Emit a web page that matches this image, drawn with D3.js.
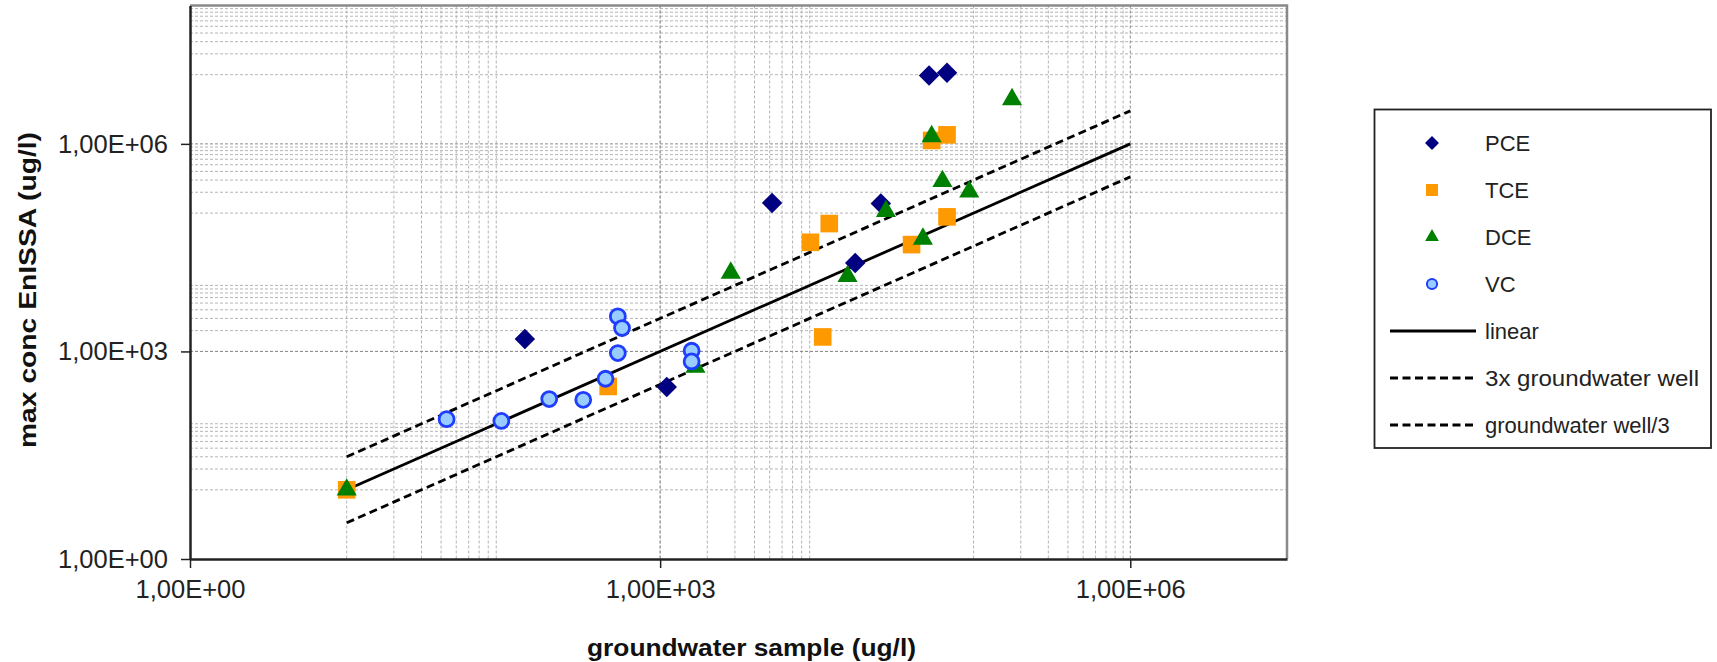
<!DOCTYPE html>
<html>
<head>
<meta charset="utf-8">
<script src="https://cdn.jsdelivr.net/npm/d3@7"></script>
<style>
  html, body { margin: 0; padding: 0; background: #fff; }
  svg { display: block; font-family: "Liberation Sans", Arial, sans-serif; }
</style>
</head>
<body>
<svg id="chart" width="1717" height="662"></svg>
<script>
// ---------------- data ----------------
const seriesNames = ["PCE", "TCE", "DCE", "VC"];

const pceX = [137, 1102, 5180, 17570, 25600, 52000, 67700];
const pceY = [1513, 305, 140000, 19000, 137000, 9.77e6, 1.07e7];

const tceX = [10, 466, 9100, 12000, 10900, 40200, 54000, 67700, 67700];
const tceY = [10, 312, 37800, 70500, 1620, 35000, 1.12e6, 1.35e6, 88100];

const dceX = [10, 1680, 2823, 15700, 27600, 47500, 54000, 63300, 93800, 176000];
const dceY = [10, 595, 13650, 12200, 106000, 42400, 1.28e6, 288000, 203000, 4.39e6];

const vcX = [43.4, 97, 196, 323, 448, 537, 571, 537, 1588, 1588];
const vcY = [105, 99, 205, 200, 403, 3210, 2180, 948, 1024, 717];

const lineNames = ["linear", "3x groundwater well", "groundwater well/3"];
const lineX = [10, 1e6];
const linearY = [10, 1e6];
const upperY = [30, 3e6];
const lowerY = [3.333, 333333];

const xTickValues = [1, 1e3, 1e6];
const xTickLabels = ["1,00E+00", "1,00E+03", "1,00E+06"];
const yTickValues = [1, 1e3, 1e6];
const yTickLabels = ["1,00E+00", "1,00E+03", "1,00E+06"];
const xMinorExponents = [1, 3, 5];
const yMinorExponents = [1, 3, 5, 7];
const minorMultipliers = [1, 2, 3, 4, 5, 6, 7, 8, 9];

const xTitle = "groundwater sample  (ug/l)";
const yTitle = "max conc EnISSA (ug/l)";

// ---------------- layout ----------------
const L = 190, R = 1287, T = 5.5, B = 559;
const svg = d3.select("#chart");
svg.append("rect").attr("width", 1717).attr("height", 662).attr("fill", "#fff");

const x = d3.scaleLog().domain([1, 1e7]).range([L, R]);
const y = d3.scaleLog().domain([1, 1e8]).range([B, T]);

// ---------------- grid ----------------
const grid = svg.append("g");
const xMinor = [];
xMinorExponents.forEach(k => minorMultipliers.forEach(m => xMinor.push(m * Math.pow(10, k))));
const yMinor = [];
yMinorExponents.forEach(k => minorMultipliers.forEach(m => yMinor.push(m * Math.pow(10, k))));

grid.selectAll(".vx").data(xMinor).join("line")
  .attr("x1", d => x(d)).attr("x2", d => x(d))
  .attr("y1", T).attr("y2", B)
  .attr("stroke", "#b5b5b5").attr("stroke-width", 1).attr("stroke-dasharray", "3,2");
grid.selectAll(".hy").data(yMinor).join("line")
  .attr("y1", d => y(d)).attr("y2", d => y(d))
  .attr("x1", L).attr("x2", R)
  .attr("stroke", "#b5b5b5").attr("stroke-width", 1).attr("stroke-dasharray", "3,2");
grid.selectAll(".vmaj").data(xTickValues.slice(1)).join("line")
  .attr("x1", d => x(d)).attr("x2", d => x(d))
  .attr("y1", T).attr("y2", B)
  .attr("stroke", "#8c8c8c").attr("stroke-width", 1).attr("stroke-dasharray", "3,2");
grid.selectAll(".hmaj").data(yTickValues.slice(1)).join("line")
  .attr("y1", d => y(d)).attr("y2", d => y(d))
  .attr("x1", L).attr("x2", R)
  .attr("stroke", "#8c8c8c").attr("stroke-width", 1).attr("stroke-dasharray", "3,2");

// frame top/right
svg.append("path")
  .attr("d", `M${L},${T}H${R}V${B}`)
  .attr("fill", "none").attr("stroke", "#8a8a8a").attr("stroke-width", 2.5);

// ---------------- axes ----------------
const xAxis = d3.axisBottom(x).tickValues(xTickValues)
  .tickFormat((d, i) => xTickLabels[i]).tickSizeOuter(0).tickSizeInner(9).tickPadding(12);
const gx = svg.append("g").attr("transform", `translate(0,${B})`).call(xAxis);
gx.select(".domain").attr("stroke", "#222").attr("stroke-width", 2.5);
gx.selectAll(".tick line").attr("stroke", "#222").attr("stroke-width", 1.5);
gx.selectAll(".tick text").attr("font-size", 25.5).attr("fill", "#222")
  .attr("font-family", "Liberation Sans, Arial, sans-serif");

const yAxis = d3.axisLeft(y).tickValues(yTickValues)
  .tickFormat((d, i) => yTickLabels[i]).tickSizeOuter(0).tickSizeInner(9).tickPadding(13);
const gy = svg.append("g").attr("transform", `translate(${L},0)`).call(yAxis);
gy.select(".domain").attr("stroke", "#222").attr("stroke-width", 2.5);
gy.selectAll(".tick line").attr("stroke", "#222").attr("stroke-width", 1.5);
gy.selectAll(".tick text").attr("font-size", 25.5).attr("fill", "#222")
  .attr("font-family", "Liberation Sans, Arial, sans-serif");

// axis titles
svg.append("text").text(xTitle)
  .attr("x", 751.5).attr("y", 656).attr("text-anchor", "middle")
  .attr("font-weight", "bold").attr("font-size", 24).attr("fill", "#111")
  .attr("textLength", 329).attr("lengthAdjust", "spacingAndGlyphs");
svg.append("text").text(yTitle)
  .attr("transform", "translate(36,290) rotate(-90)").attr("text-anchor", "middle")
  .attr("font-weight", "bold").attr("font-size", 24).attr("fill", "#111")
  .attr("textLength", 316).attr("lengthAdjust", "spacingAndGlyphs");

// ---------------- lines ----------------
const lineGen = d3.line().x(d => x(d[0])).y(d => y(d[1]));
const lineData = [
  { ys: linearY, dash: null },
  { ys: upperY, dash: "8,4.5" },
  { ys: lowerY, dash: "8,4.5" }
];
const lines = svg.append("g");
lineData.forEach(ld => {
  lines.append("path")
    .attr("d", lineGen(lineX.map((v, i) => [v, ld.ys[i]])))
    .attr("fill", "none").attr("stroke", "#000").attr("stroke-width", 2.8)
    .attr("stroke-dasharray", ld.dash);
});

// ---------------- markers ----------------
const styles = {
  PCE: { type: "diamond", fill: "#000080", stroke: "none" },
  TCE: { type: "square", fill: "#FF9900", stroke: "none" },
  DCE: { type: "triangle", fill: "#008000", stroke: "none" },
  VC:  { type: "circle", fill: "#99CCFF", stroke: "#1f3dff" }
};
function symPath(type, big) {
  const s = big ? 1 : 0.68;
  if (type === "diamond") return d3.symbol(d3.symbolSquare, 210 * s * s)();
  if (type === "square") return d3.symbol(d3.symbolSquare, 310 * s * s)();
  if (type === "triangle") return d3.symbol(d3.symbolTriangle, 175 * s * s)();
  return d3.symbol(d3.symbolCircle, Math.PI * 56 * s * s)();
}
const seriesData = [
  ["PCE", pceX, pceY], ["TCE", tceX, tceY], ["DCE", dceX, dceY], ["VC", vcX, vcY]
];
const marks = svg.append("g");
seriesData.forEach(([name, xs, ys]) => {
  const st = styles[name];
  const pts = xs.map((v, i) => [v, ys[i]]);
  marks.append("g").selectAll("path").data(pts).join("path")
    .attr("d", symPath(st.type, true))
    .attr("transform", d => `translate(${x(d[0])},${y(d[1])})` + (st.type === "diamond" ? " rotate(45)" : ""))
    .attr("fill", st.fill).attr("stroke", st.stroke).attr("stroke-width", st.type === "circle" ? 2.8 : 0);
});

// ---------------- legend ----------------
const lg = svg.append("g");
lg.append("rect").attr("x", 1374.5).attr("y", 109.5).attr("width", 336.5).attr("height", 338.5)
  .attr("fill", "#fff").attr("stroke", "#222").attr("stroke-width", 1.8);
const legY0 = 143, legStep = 47, legMarkX = 1432, legTextX = 1485;
seriesNames.forEach((name, i) => {
  const st = styles[name];
  const cy = legY0 + i * legStep;
  lg.append("path").attr("d", symPath(st.type, false))
    .attr("transform", `translate(${legMarkX},${cy})` + (st.type === "diamond" ? " rotate(45)" : ""))
    .attr("fill", st.fill).attr("stroke", st.stroke).attr("stroke-width", st.type === "circle" ? 2 : 0);
  lg.append("text").text(name).attr("x", legTextX).attr("y", cy)
    .attr("dominant-baseline", "central").attr("font-size", 22).attr("fill", "#222");
});
lineNames.forEach((name, i) => {
  const cy = legY0 + (seriesNames.length + i) * legStep;
  lg.append("line").attr("x1", 1390).attr("x2", 1476).attr("y1", cy).attr("y2", cy)
    .attr("stroke", "#000").attr("stroke-width", 2.8)
    .attr("stroke-dasharray", i === 0 ? null : "8,4.5");
  const t = lg.append("text").text(name).attr("x", legTextX).attr("y", cy)
    .attr("dominant-baseline", "central").attr("font-size", 22).attr("fill", "#222");
  if (i === 1) t.attr("textLength", 214).attr("lengthAdjust", "spacingAndGlyphs");
});
</script>
</body>
</html>
